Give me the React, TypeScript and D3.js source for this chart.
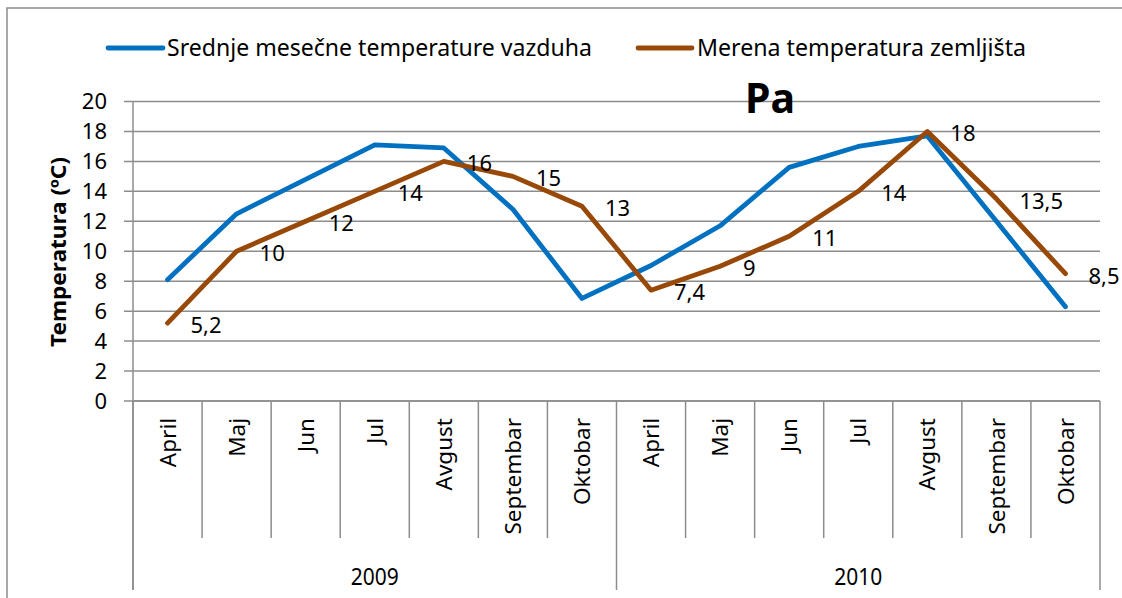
import * as d3 from 'd3';
import React, { useEffect, useRef } from 'react';

const months = ['April', 'Maj', 'Jun', 'Jul', 'Avgust', 'Septembar', 'Oktobar'];
const years = ['2009', '2010'];
const yTicks = [0, 2, 4, 6, 8, 10, 12, 14, 16, 18, 20];
const airTemp = [8.1, 12.5, 14.8, 17.1, 16.9, 12.8, 6.85, 9.05, 11.7, 15.6, 17.0, 17.7, 12.0, 6.3];
const soilTemp = [5.2, 10, 12, 14, 16, 15, 13, 7.4, 9, 11, 14, 18, 13.5, 8.5];
const soilLabels = ['5,2', '10', '12', '14', '16', '15', '13', '7,4', '9', '11', '14', '18', '13,5', '8,5'];
const seriesNames = ['Srednje mesečne temperature vazduha', 'Merena temperatura zemljišta'];
const title = 'Pa';
const yTitle = 'Temperatura (ºC)';

const FONT = '"Noto Sans", "Open Sans", sans-serif';
const BLUE = '#0070c0';
const BROWN = '#984807';
const GRID = '#8c8c8c';

const App = () => {
    const ref = useRef<SVGSVGElement>(null);

    useEffect(() => {
        const svg = d3.select(ref.current);
        svg.selectAll('*').remove();

        const left = 133, right = 1100, top = 101.5, bottom = 401;
        const categories = years.flatMap(y => months.map(m => `${m}-${y}`));

        const x = d3.scaleBand().domain(categories).range([left, right]).padding(0);
        const y = d3.scaleLinear().domain([0, 20]).range([bottom, top]);
        const cx = (i: number) => (x(categories[i]) as number) + x.bandwidth() / 2;

        // outer chart border
        svg.append('path')
            .attr('d', 'M7,598 V8 H1122')
            .attr('fill', 'none')
            .attr('stroke', GRID)
            .attr('stroke-width', 1.5);

        // gridlines + y ticks
        const g = svg.append('g');
        g.selectAll('line.grid')
            .data(yTicks)
            .enter().append('line')
            .attr('x1', left - 9)
            .attr('x2', right)
            .attr('y1', d => y(d))
            .attr('y2', d => y(d))
            .attr('stroke', GRID)
            .attr('stroke-width', 1.5);

        g.selectAll('text.tick')
            .data(yTicks)
            .enter().append('text')
            .attr('x', 107)
            .attr('y', d => y(d))
            .attr('dy', '0.36em')
            .attr('text-anchor', 'end')
            .attr('font-family', FONT)
            .attr('font-size', 22)
            .attr('fill', '#000')
            .text(d => d);

        // y axis line, continues down as the left category separator
        svg.append('line')
            .attr('x1', left).attr('x2', left)
            .attr('y1', top).attr('y2', 590)
            .attr('stroke', GRID).attr('stroke-width', 1.5);

        // month separators
        const bounds = d3.range(categories.length + 1).map(i =>
            i < categories.length ? (x(categories[i]) as number) : right);
        svg.selectAll('line.msep')
            .data(bounds)
            .enter().append('line')
            .attr('x1', d => d).attr('x2', d => d)
            .attr('y1', bottom)
            .attr('y2', (d, i) => (i % months.length === 0 ? 590 : 538))
            .attr('stroke', GRID).attr('stroke-width', 1.5);

        // month labels (rotated)
        svg.selectAll('text.month')
            .data(categories)
            .enter().append('text')
            .attr('transform', (d, i) => `translate(${cx(i)},418) rotate(-90)`)
            .attr('dy', '0.36em')
            .attr('text-anchor', 'end')
            .attr('font-family', FONT)
            .attr('font-size', 22.5)
            .attr('fill', '#000')
            .text(d => d.split('-')[0]);

        // year labels
        years.forEach((yr, k) => {
            const x0 = bounds[k * months.length];
            const x1 = bounds[(k + 1) * months.length];
            svg.append('text')
                .attr('x', (x0 + x1) / 2)
                .attr('y', 576)
                .attr('dy', '0.36em')
                .attr('text-anchor', 'middle')
                .attr('font-family', FONT)
                .attr('font-size', 24)
                .attr('textLength', 48)
                .attr('lengthAdjust', 'spacingAndGlyphs')
                .attr('fill', '#000')
                .text(yr);
        });

        // x axis line
        svg.append('line')
            .attr('x1', left).attr('x2', right)
            .attr('y1', bottom).attr('y2', bottom)
            .attr('stroke', GRID).attr('stroke-width', 1.5);

        // title
        svg.append('text')
            .attr('x', 770)
            .attr('y', 113)
            .attr('text-anchor', 'middle')
            .attr('font-family', FONT)
            .attr('font-weight', 'bold')
            .attr('font-size', 41)
            .attr('fill', '#000')
            .text(title);

        // y axis title
        svg.append('text')
            .attr('transform', 'translate(58,252) rotate(-90)')
            .attr('dy', '0.36em')
            .attr('text-anchor', 'middle')
            .attr('font-family', FONT)
            .attr('font-weight', 'bold')
            .attr('font-size', 21)
            .attr('textLength', 190)
            .attr('lengthAdjust', 'spacingAndGlyphs')
            .attr('fill', '#000')
            .text(yTitle);

        // lines
        const line = d3.line<number>()
            .x((d, i) => cx(i))
            .y(d => y(d));

        [[airTemp, BLUE], [soilTemp, BROWN]].forEach(([vals, color]) => {
            svg.append('path')
                .datum(vals as number[])
                .attr('d', line)
                .attr('fill', 'none')
                .attr('stroke', color as string)
                .attr('stroke-width', 4.8)
                .attr('stroke-linejoin', 'round')
                .attr('stroke-linecap', 'round');
        });

        // data labels for soil temperature
        svg.selectAll('text.dl')
            .data(soilTemp)
            .enter().append('text')
            .attr('x', (d, i) => cx(i) + 23)
            .attr('y', d => y(d) + 2)
            .attr('dy', '0.36em')
            .attr('font-family', FONT)
            .attr('font-size', 22)
            .attr('fill', '#000')
            .text((d, i) => soilLabels[i]);

        // legend
        const legend = [
            { name: seriesNames[0], color: BLUE, x0: 108, x1: 163, tx: 167, tl: 425 },
            { name: seriesNames[1], color: BROWN, x0: 638, x1: 692, tx: 697, tl: 329 },
        ];
        legend.forEach(l => {
            svg.append('line')
                .attr('x1', l.x0).attr('x2', l.x1)
                .attr('y1', 48).attr('y2', 48)
                .attr('stroke', l.color)
                .attr('stroke-width', 4.8)
                .attr('stroke-linecap', 'round');
            svg.append('text')
                .attr('x', l.tx)
                .attr('y', 56)
                .attr('font-family', FONT)
                .attr('font-size', 23)
                .attr('textLength', l.tl)
                .attr('lengthAdjust', 'spacingAndGlyphs')
                .attr('fill', '#000')
                .text(l.name);
        });
    }, []);

    return (
        <svg
            ref={ref}
            width={1122}
            height={598}
            style={{ position: 'absolute', left: 0, top: 0, background: '#fff' }}
        />
    );
};

export default App;
